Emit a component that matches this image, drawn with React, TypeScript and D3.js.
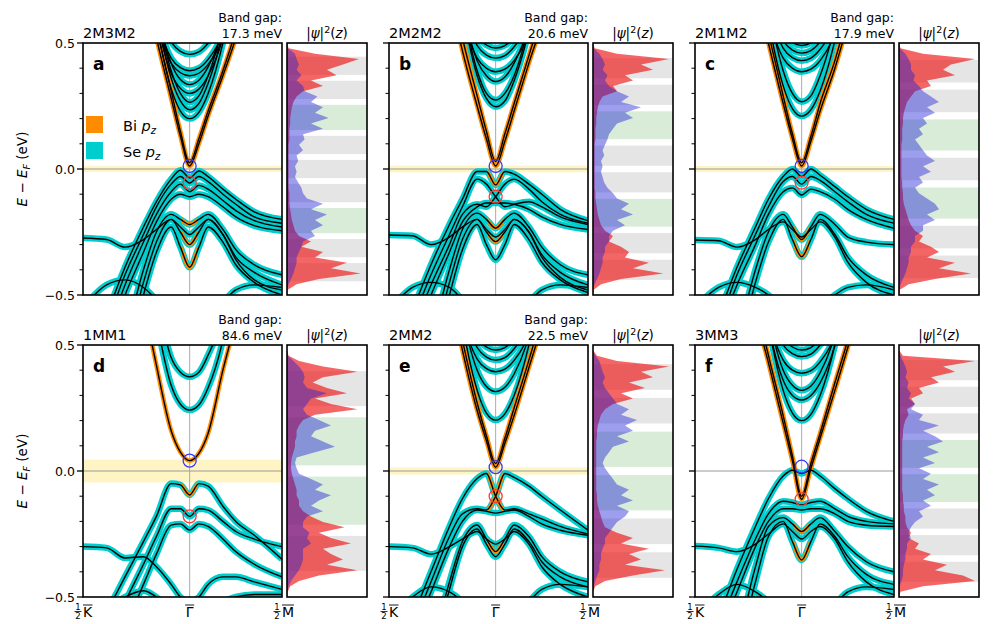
import React from "react";
import * as d3 from "d3";

// k points in units of |ΓM|, from ½K (left) through Γ to ½M (right)
const kGrid = [-0.577, -0.45, -0.35, -0.25, -0.18, -0.1, -0.05, 0, 0.05, 0.1, 0.18, 0.25, 0.35, 0.5];

// ---------- panel a : 2M3M2 ----------
const aOrange = [
  [1.5, 1.5, 1.2, 0.75, 0.52, 0.28, 0.13, 0.012, 0.1, 0.21, 0.37, 0.52, 0.8, 1.2],
  [1.5, 1.5, 1.25, 0.8, 0.56, 0.31, 0.15, 0.025, 0.12, 0.23, 0.39, 0.55, 0.85, 1.25],
];
const aCyan = [
  [1.5, 1.5, 1.3, 0.9, 0.58, 0.32, 0.23, 0.2, 0.225, 0.3, 0.5, 0.75, 1.1, 1.5],
  [1.5, 1.5, 1.34, 0.94, 0.62, 0.36, 0.27, 0.235, 0.26, 0.34, 0.54, 0.79, 1.14, 1.5],
  [1.5, 1.5, 1.37, 0.97, 0.65, 0.39, 0.3, 0.265, 0.29, 0.37, 0.57, 0.82, 1.17, 1.5],
  [1.5, 1.5, 1.4, 0.9, 0.6, 0.38, 0.32, 0.3, 0.317, 0.37, 0.52, 0.75, 1.1, 1.5],
  [1.5, 1.5, 1.44, 0.94, 0.64, 0.42, 0.355, 0.335, 0.352, 0.405, 0.555, 0.79, 1.14, 1.5],
  [1.5, 1.5, 1.37, 0.87, 0.59, 0.42, 0.382, 0.37, 0.38, 0.415, 0.52, 0.72, 1.07, 1.5],
  [1.5, 1.5, 1.39, 0.89, 0.61, 0.44, 0.402, 0.39, 0.4, 0.435, 0.54, 0.74, 1.09, 1.5],
  [1.5, 1.5, 1.46, 0.96, 0.68, 0.505, 0.467, 0.455, 0.465, 0.5, 0.605, 0.81, 1.16, 1.5],
];
const aValence = [
  [-0.8, -0.58, -0.39, -0.23, -0.13, -0.04, -0.005, -0.035, -0.008, -0.03, -0.08, -0.12, -0.17, -0.2],
  [-0.85, -0.62, -0.42, -0.26, -0.15, -0.06, -0.03, -0.056, -0.03, -0.05, -0.1, -0.14, -0.19, -0.215],
  [-0.9, -0.66, -0.46, -0.29, -0.18, -0.09, -0.06, -0.09, -0.065, -0.08, -0.125, -0.165, -0.205, -0.23],
  [-0.95, -0.7, -0.5, -0.33, -0.21, -0.12, -0.1, -0.11, -0.1, -0.11, -0.15, -0.19, -0.225, -0.245],
  [-1.2, -0.95, -0.68, -0.4, -0.25, -0.18, -0.2, -0.22, -0.2, -0.18, -0.24, -0.32, -0.38, -0.42],
  [-1.3, -1.0, -0.74, -0.45, -0.29, -0.2, -0.25, -0.3, -0.25, -0.2, -0.26, -0.35, -0.41, -0.46],
  [-1.4, -1.1, -0.8, -0.5, -0.33, -0.23, -0.31, -0.39, -0.31, -0.23, -0.29, -0.38, -0.45, -0.5],
  [-0.274, -0.28, -0.31, -0.28, -0.24, -0.2, -0.23, -0.26, -0.23, -0.2, -0.26, -0.36, -0.44, -0.48],
  [-0.55, -0.46, -0.44, -0.47, -0.52, -0.6, -0.65, -0.66, -0.65, -0.6, -0.53, -0.48, -0.46, -0.47],
];
const aDips = [4, 5, 6];
const aRed = [0, 0.02, 0.35, 0.9, 0.7, 0.5, 0.62, 0.3, 0.45, 0.2, 0.12, 0.08, 0.06, 0.05, 0.04, 0.04, 0.03, 0.03, 0.03, 0.02, 0.02, 0.02, 0.02, 0.02, 0.02, 0.02, 0.02, 0.02, 0.03, 0.03, 0.03, 0.04, 0.05, 0.06, 0.08, 0.1, 0.15, 0.3, 0.18, 0.45, 0.35, 0.75, 0.55, 0.92, 0.4, 0.12, 0.01, 0];
const aBlue = [0, 0.01, 0.1, 0.12, 0.15, 0.12, 0.18, 0.12, 0.2, 0.22, 0.38, 0.3, 0.45, 0.35, 0.52, 0.3, 0.45, 0.2, 0.22, 0.15, 0.2, 0.12, 0.14, 0.1, 0.12, 0.1, 0.14, 0.18, 0.2, 0.25, 0.45, 0.3, 0.5, 0.35, 0.45, 0.3, 0.35, 0.2, 0.18, 0.15, 0.12, 0.12, 0.1, 0.08, 0.05, 0.02, 0, 0];

// ---------- panel b : 2M2M2 ----------
const bOrange = [
  [1.5, 1.5, 1.2, 0.7, 0.47, 0.25, 0.12, 0.012, 0.11, 0.23, 0.42, 0.58, 0.9, 1.3],
  [1.5, 1.5, 1.25, 0.76, 0.52, 0.29, 0.15, 0.03, 0.14, 0.26, 0.45, 0.62, 0.95, 1.35],
];
const bCyan = [
  [1.5, 1.5, 1.35, 0.95, 0.63, 0.37, 0.28, 0.247, 0.27, 0.35, 0.55, 0.8, 1.15, 1.5],
  [1.5, 1.5, 1.37, 0.97, 0.65, 0.39, 0.3, 0.274, 0.3, 0.37, 0.57, 0.82, 1.17, 1.5],
  [1.5, 1.5, 1.45, 0.95, 0.65, 0.43, 0.37, 0.347, 0.365, 0.42, 0.57, 0.8, 1.15, 1.5],
  [1.5, 1.5, 1.39, 0.89, 0.61, 0.44, 0.4, 0.386, 0.396, 0.43, 0.54, 0.74, 1.09, 1.5],
  [1.5, 1.5, 1.44, 0.94, 0.66, 0.49, 0.452, 0.44, 0.45, 0.485, 0.59, 0.79, 1.14, 1.5],
  [1.5, 1.5, 1.48, 0.98, 0.7, 0.53, 0.492, 0.48, 0.49, 0.525, 0.63, 0.83, 1.18, 1.5],
];
const bValence = [
  [-0.78, -0.56, -0.38, -0.22, -0.12, -0.01, -0.01, -0.063, -0.01, -0.02, -0.06, -0.1, -0.16, -0.205],
  [-0.82, -0.6, -0.42, -0.26, -0.15, -0.04, -0.06, -0.11, -0.15, -0.14, -0.13, -0.15, -0.19, -0.22],
  [-0.86, -0.64, -0.46, -0.3, -0.18, -0.14, -0.15, -0.11, -0.06, -0.04, -0.08, -0.13, -0.18, -0.215],
  [-0.9, -0.68, -0.5, -0.33, -0.21, -0.15, -0.135, -0.135, -0.135, -0.14, -0.16, -0.19, -0.22, -0.24],
  [-1.2, -0.95, -0.68, -0.4, -0.24, -0.175, -0.2, -0.235, -0.2, -0.175, -0.23, -0.31, -0.38, -0.42],
  [-1.3, -1.0, -0.74, -0.45, -0.28, -0.2, -0.25, -0.288, -0.25, -0.2, -0.25, -0.34, -0.41, -0.46],
  [-1.4, -1.1, -0.8, -0.5, -0.32, -0.22, -0.3, -0.36, -0.3, -0.22, -0.28, -0.37, -0.44, -0.49],
  [-0.262, -0.265, -0.3, -0.27, -0.23, -0.2, -0.24, -0.27, -0.24, -0.2, -0.25, -0.35, -0.43, -0.48],
  [-0.56, -0.47, -0.45, -0.47, -0.52, -0.6, -0.65, -0.66, -0.65, -0.6, -0.53, -0.48, -0.46, -0.47],
];
const bDips = [0, 4, 5];
const bRed = [0, 0.02, 0.3, 0.95, 0.6, 0.75, 0.4, 0.5, 0.25, 0.3, 0.12, 0.08, 0.06, 0.05, 0.04, 0.04, 0.03, 0.03, 0.03, 0.02, 0.02, 0.02, 0.02, 0.02, 0.02, 0.02, 0.02, 0.02, 0.03, 0.03, 0.04, 0.05, 0.06, 0.08, 0.1, 0.15, 0.25, 0.2, 0.35, 0.45, 0.4, 0.7, 0.5, 0.88, 0.35, 0.1, 0.01, 0];
const bBlue = [0, 0.01, 0.08, 0.12, 0.15, 0.12, 0.18, 0.15, 0.2, 0.3, 0.45, 0.35, 0.6, 0.4, 0.5, 0.3, 0.25, 0.2, 0.18, 0.15, 0.12, 0.14, 0.1, 0.12, 0.1, 0.12, 0.14, 0.18, 0.25, 0.3, 0.45, 0.35, 0.5, 0.3, 0.4, 0.25, 0.2, 0.2, 0.15, 0.15, 0.12, 0.12, 0.1, 0.08, 0.05, 0.02, 0, 0];

// ---------- panel c : 2M1M2 ----------
const cOrange = [
  [1.5, 1.5, 1.2, 0.72, 0.5, 0.26, 0.12, 0.012, 0.11, 0.23, 0.4, 0.58, 0.9, 1.3],
  [1.5, 1.5, 1.25, 0.77, 0.54, 0.29, 0.14, 0.025, 0.13, 0.26, 0.43, 0.62, 0.95, 1.35],
];
const cCyan = [
  [1.5, 1.5, 1.31, 0.91, 0.59, 0.33, 0.24, 0.21, 0.235, 0.31, 0.51, 0.76, 1.11, 1.5],
  [1.5, 1.5, 1.37, 0.97, 0.65, 0.39, 0.3, 0.267, 0.29, 0.37, 0.57, 0.82, 1.17, 1.5],
  [1.5, 1.5, 1.39, 0.89, 0.61, 0.44, 0.4, 0.386, 0.396, 0.43, 0.54, 0.74, 1.09, 1.5],
  [1.5, 1.5, 1.43, 0.93, 0.65, 0.48, 0.442, 0.43, 0.44, 0.475, 0.58, 0.78, 1.13, 1.5],
  [1.5, 1.5, 1.46, 0.96, 0.68, 0.51, 0.472, 0.46, 0.47, 0.505, 0.61, 0.81, 1.16, 1.5],
  [1.5, 1.5, 1.49, 0.99, 0.71, 0.54, 0.502, 0.49, 0.5, 0.535, 0.64, 0.84, 1.19, 1.5],
];
const cValence = [
  [-0.8, -0.58, -0.39, -0.23, -0.12, -0.03, 0.0, -0.03, 0.0, -0.025, -0.07, -0.11, -0.16, -0.2],
  [-0.84, -0.62, -0.42, -0.26, -0.15, -0.05, -0.03, -0.06, -0.03, -0.045, -0.09, -0.13, -0.18, -0.215],
  [-0.88, -0.65, -0.46, -0.3, -0.18, -0.09, -0.075, -0.103, -0.08, -0.09, -0.12, -0.16, -0.2, -0.235],
  [-1.2, -0.95, -0.68, -0.4, -0.25, -0.18, -0.23, -0.28, -0.23, -0.18, -0.22, -0.27, -0.29, -0.3],
  [-1.3, -1.0, -0.74, -0.45, -0.29, -0.2, -0.28, -0.348, -0.28, -0.2, -0.26, -0.35, -0.42, -0.47],
  [-0.282, -0.285, -0.31, -0.28, -0.24, -0.21, -0.24, -0.27, -0.24, -0.21, -0.27, -0.37, -0.45, -0.5],
  [-0.55, -0.47, -0.45, -0.47, -0.5, -0.56, -0.6, -0.62, -0.6, -0.55, -0.5, -0.47, -0.46, -0.48],
];
const cDips = [3, 4];
const cRed = [0, 0.02, 0.3, 0.95, 0.65, 0.55, 0.7, 0.35, 0.4, 0.2, 0.15, 0.1, 0.08, 0.06, 0.05, 0.05, 0.04, 0.04, 0.04, 0.03, 0.03, 0.03, 0.03, 0.03, 0.03, 0.03, 0.04, 0.04, 0.05, 0.05, 0.06, 0.08, 0.1, 0.12, 0.15, 0.2, 0.3, 0.25, 0.4, 0.5, 0.35, 0.7, 0.5, 0.9, 0.45, 0.12, 0.01, 0];
const cBlue = [0, 0.01, 0.08, 0.12, 0.15, 0.15, 0.2, 0.18, 0.25, 0.3, 0.4, 0.5, 0.35, 0.45, 0.3, 0.35, 0.25, 0.3, 0.2, 0.25, 0.3, 0.35, 0.45, 0.3, 0.4, 0.25, 0.3, 0.2, 0.25, 0.35, 0.45, 0.5, 0.35, 0.45, 0.3, 0.3, 0.2, 0.2, 0.15, 0.15, 0.12, 0.12, 0.1, 0.08, 0.05, 0.02, 0, 0];

// ---------- panel d : 1MM1 ----------
const dOrange = [
  [1.5, 1.5, 1.2, 0.68, 0.42, 0.16, 0.075, 0.041, 0.07, 0.15, 0.4, 0.6, 0.95, 1.4],
];
const dCyan = [
  [1.5, 1.5, 1.3, 0.9, 0.6, 0.34, 0.265, 0.242, 0.262, 0.33, 0.52, 0.8, 1.2, 1.5],
  [1.5, 1.5, 1.4, 1.0, 0.7, 0.45, 0.392, 0.374, 0.392, 0.46, 0.62, 0.9, 1.3, 1.5],
];
const dValence = [
  [-0.72, -0.56, -0.42, -0.28, -0.18, -0.05, -0.055, -0.095, -0.05, -0.06, -0.14, -0.2, -0.255, -0.35],
  [-0.85, -0.68, -0.52, -0.37, -0.26, -0.15, -0.15, -0.18, -0.15, -0.155, -0.2, -0.24, -0.27, -0.3],
  [-0.95, -0.78, -0.62, -0.45, -0.33, -0.215, -0.21, -0.234, -0.21, -0.22, -0.27, -0.32, -0.37, -0.42],
  [-0.3, -0.305, -0.345, -0.34, -0.38, -0.45, -0.5, -0.52, -0.5, -0.45, -0.42, -0.42, -0.44, -0.47],
  [-0.62, -0.55, -0.5, -0.475, -0.5, -0.56, -0.6, -0.62, -0.6, -0.56, -0.52, -0.5, -0.49, -0.49],
];
const dDips = [0];
const dRed = [0, 0, 0.02, 0.15, 0.45, 0.88, 0.45, 0.32, 0.5, 0.75, 0.35, 0.55, 0.88, 0.35, 0.2, 0.15, 0.12, 0.12, 0.1, 0.1, 0.08, 0.06, 0.05, 0.05, 0.06, 0.08, 0.1, 0.12, 0.12, 0.15, 0.15, 0.2, 0.3, 0.45, 0.72, 0.4, 0.55, 0.8, 0.45, 0.55, 0.7, 0.5, 0.88, 0.4, 0.15, 0.04, 0.01, 0];
const dBlue = [0, 0, 0.01, 0.08, 0.15, 0.2, 0.22, 0.2, 0.25, 0.5, 0.3, 0.25, 0.2, 0.25, 0.4, 0.55, 0.35, 0.3, 0.45, 0.6, 0.35, 0.12, 0.1, 0.12, 0.15, 0.3, 0.45, 0.35, 0.55, 0.4, 0.3, 0.45, 0.25, 0.2, 0.2, 0.28, 0.25, 0.3, 0.2, 0.2, 0.2, 0.18, 0.15, 0.1, 0.05, 0.02, 0, 0];

// ---------- panel e : 2MM2 ----------
const eOrange = [
  [1.5, 1.5, 1.2, 0.72, 0.48, 0.24, 0.12, 0.015, 0.11, 0.22, 0.41, 0.58, 0.9, 1.3],
  [1.5, 1.5, 1.25, 0.77, 0.52, 0.27, 0.14, 0.03, 0.13, 0.25, 0.44, 0.62, 0.95, 1.35],
];
const eCyan = [
  [1.5, 1.5, 1.3, 0.9, 0.58, 0.32, 0.23, 0.202, 0.227, 0.3, 0.5, 0.75, 1.1, 1.5],
  [1.5, 1.5, 1.42, 0.92, 0.62, 0.4, 0.335, 0.315, 0.332, 0.385, 0.535, 0.77, 1.12, 1.5],
  [1.5, 1.5, 1.39, 0.89, 0.61, 0.444, 0.406, 0.394, 0.404, 0.439, 0.544, 0.744, 1.09, 1.5],
  [1.5, 1.5, 1.44, 0.94, 0.66, 0.49, 0.452, 0.44, 0.45, 0.485, 0.59, 0.79, 1.14, 1.5],
  [1.5, 1.5, 1.48, 0.98, 0.7, 0.53, 0.492, 0.48, 0.49, 0.525, 0.63, 0.83, 1.18, 1.5],
];
const eValence = [
  [-0.8, -0.58, -0.4, -0.22, -0.11, -0.03, -0.01, -0.1, -0.155, -0.15, -0.17, -0.19, -0.22, -0.25],
  [-0.85, -0.62, -0.44, -0.26, -0.17, -0.15, -0.155, -0.1, -0.01, -0.025, -0.06, -0.1, -0.155, -0.235],
  [-0.9, -0.66, -0.48, -0.3, -0.2, -0.155, -0.16, -0.167, -0.16, -0.155, -0.18, -0.21, -0.235, -0.255],
  [-1.25, -1.0, -0.72, -0.44, -0.28, -0.214, -0.27, -0.32, -0.27, -0.214, -0.26, -0.34, -0.4, -0.44],
  [-1.3, -1.05, -0.76, -0.47, -0.3, -0.23, -0.29, -0.34, -0.29, -0.23, -0.28, -0.36, -0.42, -0.46],
  [-0.3, -0.305, -0.33, -0.3, -0.27, -0.24, -0.27, -0.29, -0.27, -0.24, -0.29, -0.38, -0.45, -0.5],
  [-0.6, -0.5, -0.46, -0.48, -0.52, -0.6, -0.65, -0.66, -0.65, -0.6, -0.52, -0.47, -0.45, -0.46],
];
const eDips = [0, 1, 3];
const eRed = [0, 0, 0.05, 0.3, 0.95, 0.6, 0.75, 0.45, 0.65, 0.35, 0.5, 0.25, 0.15, 0.1, 0.08, 0.06, 0.05, 0.05, 0.04, 0.04, 0.04, 0.04, 0.04, 0.04, 0.04, 0.04, 0.04, 0.04, 0.05, 0.05, 0.06, 0.08, 0.1, 0.12, 0.15, 0.3, 0.5, 0.35, 0.7, 0.45, 0.6, 0.4, 0.9, 0.5, 0.15, 0.03, 0, 0];
const eBlue = [0, 0, 0.03, 0.08, 0.1, 0.12, 0.15, 0.12, 0.15, 0.2, 0.25, 0.3, 0.45, 0.35, 0.55, 0.4, 0.5, 0.3, 0.45, 0.25, 0.2, 0.15, 0.12, 0.15, 0.2, 0.25, 0.3, 0.45, 0.35, 0.5, 0.3, 0.45, 0.4, 0.3, 0.25, 0.2, 0.15, 0.15, 0.12, 0.1, 0.1, 0.08, 0.08, 0.05, 0.03, 0.01, 0, 0];

// ---------- panel f : 3MM3 ----------
const fOrange = [
  [1.5, 1.5, 1.2, 0.64, 0.43, 0.19, 0.04, -0.112, 0.01, 0.13, 0.32, 0.49, 0.75, 1.1],
  [1.5, 1.5, 1.25, 0.68, 0.46, 0.22, 0.06, -0.1, 0.03, 0.15, 0.35, 0.52, 0.8, 1.15],
];
const fCyan = [
  [1.5, 1.5, 1.3, 0.9, 0.58, 0.32, 0.23, 0.2, 0.225, 0.3, 0.5, 0.75, 1.1, 1.5],
  [1.5, 1.5, 1.38, 0.88, 0.58, 0.36, 0.3, 0.282, 0.3, 0.35, 0.5, 0.73, 1.08, 1.5],
  [1.5, 1.5, 1.42, 0.92, 0.62, 0.4, 0.34, 0.32, 0.337, 0.39, 0.54, 0.77, 1.12, 1.5],
  [1.5, 1.5, 1.39, 0.89, 0.61, 0.44, 0.4, 0.388, 0.398, 0.433, 0.538, 0.738, 1.09, 1.5],
  [1.5, 1.5, 1.45, 0.95, 0.67, 0.5, 0.466, 0.454, 0.464, 0.5, 0.6, 0.8, 1.15, 1.5],
  [1.5, 1.5, 1.48, 0.98, 0.7, 0.53, 0.492, 0.48, 0.49, 0.525, 0.63, 0.83, 1.18, 1.5],
];
const fValence = [
  [-0.8, -0.58, -0.39, -0.22, -0.11, -0.02, 0.003, -0.01, 0.003, -0.02, -0.07, -0.11, -0.16, -0.2],
  [-0.85, -0.62, -0.44, -0.27, -0.17, -0.12, -0.125, -0.135, -0.125, -0.12, -0.15, -0.18, -0.2, -0.21],
  [-0.9, -0.66, -0.48, -0.3, -0.2, -0.15, -0.15, -0.155, -0.15, -0.15, -0.17, -0.2, -0.215, -0.22],
  [-1.2, -0.95, -0.68, -0.38, -0.22, -0.185, -0.21, -0.24, -0.21, -0.185, -0.24, -0.3, -0.36, -0.4],
  [-1.3, -1.0, -0.74, -0.44, -0.26, -0.2, -0.28, -0.353, -0.28, -0.21, -0.26, -0.34, -0.41, -0.45],
  [-0.298, -0.305, -0.32, -0.29, -0.25, -0.21, -0.24, -0.27, -0.24, -0.22, -0.27, -0.36, -0.44, -0.49],
  [-0.58, -0.49, -0.45, -0.48, -0.52, -0.6, -0.65, -0.66, -0.65, -0.6, -0.53, -0.48, -0.46, -0.47],
];
const fDips = [3, 4];
const fRed = [0, 0, 0.05, 0.95, 0.55, 0.7, 0.4, 0.5, 0.25, 0.3, 0.15, 0.2, 0.1, 0.12, 0.08, 0.06, 0.05, 0.05, 0.04, 0.04, 0.04, 0.04, 0.04, 0.04, 0.04, 0.04, 0.04, 0.04, 0.05, 0.05, 0.06, 0.06, 0.08, 0.08, 0.1, 0.15, 0.12, 0.25, 0.2, 0.4, 0.3, 0.6, 0.45, 0.8, 0.95, 0.3, 0.02, 0];
const fBlue = [0, 0, 0.02, 0.05, 0.08, 0.1, 0.08, 0.12, 0.1, 0.15, 0.12, 0.2, 0.15, 0.3, 0.25, 0.5, 0.3, 0.45, 0.55, 0.35, 0.5, 0.3, 0.45, 0.25, 0.4, 0.3, 0.5, 0.35, 0.45, 0.3, 0.4, 0.25, 0.3, 0.2, 0.15, 0.12, 0.15, 0.1, 0.1, 0.08, 0.08, 0.06, 0.05, 0.05, 0.03, 0.01, 0, 0];

const panelIds = ["a", "b", "c", "d", "e", "f"];
const panelNames = ["2M3M2", "2M2M2", "2M1M2", "1MM1", "2MM2", "3MM3"];
const bandGaps = [17.3, 20.6, 17.9, 84.6, 22.5, null];
const cbmEnergy = [0.012, 0.012, 0.012, 0.041, 0.015, 0.017];
const redMarkEnergy = [-0.056, -0.11, -0.054, -0.18, -0.1, -0.112];

const panels = [
  { orange: aOrange, cyan: aCyan, valence: aValence, dips: aDips, red: aRed, blue: aBlue },
  { orange: bOrange, cyan: bCyan, valence: bValence, dips: bDips, red: bRed, blue: bBlue },
  { orange: cOrange, cyan: cCyan, valence: cValence, dips: cDips, red: cRed, blue: cBlue },
  { orange: dOrange, cyan: dCyan, valence: dValence, dips: dDips, red: dRed, blue: dBlue },
  { orange: eOrange, cyan: eCyan, valence: eValence, dips: eDips, red: eRed, blue: eBlue },
  { orange: fOrange, cyan: fCyan, valence: fValence, dips: fDips, red: fRed, blue: fBlue },
].map((p, i) => ({ ...p, id: panelIds[i], name: panelNames[i], gap: bandGaps[i], cbm: cbmEnergy[i], vmark: redMarkEnergy[i] }));

// layer thicknesses (arbitrary units) for the |psi|^2 side plots
const QL = 1.0, SL = 1.38, GAP = 0.32, VAC = 0.75;

// layout
const colX = [83, 389, 695];
const rowY = [43, 345];
const BW = 199, PH = 252, SG = 5, SW = 80;
const CYAN = "#00cdcd", ORANGE = "#ff8c00";
const FONT = "DejaVu Sans, Liberation Sans, sans-serif";

function layers(name: string) {
  const out: string[] = [];
  for (const ch of name) {
    if (ch === "M") out.push("SL");
    else for (let i = 0; i < +ch; i++) out.push("QL");
  }
  return out;
}

function Panel({ p, idx }: { p: any; idx: number }) {
  const col = idx % 3, row = Math.floor(idx / 3);
  const x0 = colX[col], y0 = rowY[row];
  const x = d3.scaleLinear().domain([-1 / Math.sqrt(3), 0.5]).range([x0, x0 + BW]);
  const y = d3.scaleLinear().domain([-0.5, 0.5]).range([y0 + PH, y0]);
  const line = d3.line<number>().x((_, i) => x(kGrid[i])).y((d) => y(d)).curve(d3.curveMonotoneX);

  // side plot
  const sx = x0 + BW + SG;
  const lay = layers(p.name);
  let z = 0;
  const stripes = lay.map((t, i) => {
    const th = t === "QL" ? QL : SL;
    const s = { t, z0: z, z1: z + th };
    z += th + (i < lay.length - 1 ? GAP : 0);
    return s;
  });
  const zs = d3.scaleLinear().domain([-VAC, z + VAC]).range([y0, y0 + PH]);
  const pi = d3.scaleLinear().domain([0, p.red.length - 1]).range([y0, y0 + PH]);
  const px = d3.scaleLinear().domain([0, 1]).range([sx, sx + SW]);
  const area = d3.area<number>().y((_, i) => pi(i)).x0(sx).x1((d) => px(d));

  const clip = `clip-${p.id}`, dip = `dip-${p.id}`, sclip = `sclip-${p.id}`;
  const minor = d3.range(-0.4, 0.41, 0.1).filter((v) => Math.abs(v) > 0.05);

  return (
    <g>
      <defs>
        <clipPath id={clip}><rect x={x0} y={y0} width={BW} height={PH} /></clipPath>
        <clipPath id={dip}><rect x={x(-0.045)} y={y0} width={x(0.045) - x(-0.045)} height={PH} /></clipPath>
        <clipPath id={sclip}><rect x={sx} y={y0} width={SW} height={PH} /></clipPath>
      </defs>

      {/* band structure */}
      <g clipPath={`url(#${clip})`}>
        {p.gap != null && (
          <rect x={x0} y={y(p.gap / 2000 + 0.003)} width={BW}
            height={y(-p.gap / 2000 - 0.003) - y(p.gap / 2000 + 0.003)} fill="#fff5c4" />
        )}
        <line x1={x0} x2={x0 + BW} y1={y(0)} y2={y(0)} stroke="#999" strokeWidth={1.2} />
        <line x1={x(0)} x2={x(0)} y1={y0} y2={y0 + PH} stroke="#aaa" strokeWidth={1} />
        {[...p.cyan, ...p.valence].map((b: number[], i: number) => (
          <path key={"c" + i} d={line(b)!} fill="none" stroke={CYAN} strokeWidth={6.5} strokeLinejoin="round" />
        ))}
        {p.orange.map((b: number[], i: number) => (
          <path key={"o" + i} d={line(b)!} fill="none" stroke={ORANGE} strokeWidth={4.5} />
        ))}
        <g clipPath={`url(#${dip})`}>
          {p.dips.map((j: number) => (
            <path key={"d" + j} d={line(p.valence[j])!} fill="none" stroke={ORANGE} strokeWidth={4} />
          ))}
        </g>
        {[...p.cyan, ...p.valence, ...p.orange].map((b: number[], i: number) => (
          <path key={"k" + i} d={line(b)!} fill="none" stroke="#000" strokeWidth={1.4} />
        ))}
        <circle cx={x(0)} cy={y(p.cbm)} r={6.5} fill="none" stroke="#3838ff" strokeWidth={1.3} />
        <circle cx={x(0)} cy={y(p.vmark)} r={6.5} fill="none" stroke="#ff3838" strokeWidth={1.3} />
      </g>
      <rect x={x0} y={y0} width={BW} height={PH} fill="none" stroke="#000" strokeWidth={1.6} />
      {minor.map((v) => (
        <line key={v} x1={x0 - 3.5} x2={x0} y1={y(v)} y2={y(v)} stroke="#000" strokeWidth={1} />
      ))}
      {[-0.5, 0, 0.5].map((v) => (
        <line key={"M" + v} x1={x0 - 6} x2={x0} y1={y(v)} y2={y(v)} stroke="#000" strokeWidth={1.3} />
      ))}
      {col === 0 &&
        [-0.5, 0, 0.5].map((v) => (
          <text key={"t" + v} x={x0 - 8} y={y(v) + 4.5} fontSize={12.5} textAnchor="end" fontFamily={FONT}>
            {v < 0 ? "\u22120.5" : v.toFixed(1)}
          </text>
        ))}
      <text x={x0 + 10} y={y0 + 27} fontSize={17} fontWeight="bold" fontFamily={FONT}>{p.id}</text>

      {/* titles */}
      <text x={x0} y={y0 - 5} fontSize={14.5} fontFamily={FONT}>{p.name}</text>
      {p.gap != null && (
        <g fontSize={12.5} fontFamily={FONT} textAnchor="end">
          <text x={x0 + BW} y={y0 - 21}>Band gap:</text>
          <text x={x0 + BW} y={y0 - 5}>{p.gap.toFixed(1)} meV</text>
        </g>
      )}
      <text x={sx + SW / 2} y={y0 - 5} fontSize={13.5} fontFamily={FONT} textAnchor="middle">
        |<tspan fontStyle="italic">ψ</tspan>|<tspan dy={-5} fontSize={9.5}>2</tspan>
        <tspan dy={5}>(</tspan><tspan fontStyle="italic">z</tspan>)
      </text>

      {/* wavefunction side plot */}
      <g clipPath={`url(#${sclip})`}>
        {stripes.map((s, i) => (
          <rect key={i} x={sx} width={SW} y={zs(s.z0)} height={zs(s.z1) - zs(s.z0)}
            fill={s.t === "QL" ? "#e5e5e5" : "#d8ecd8"} />
        ))}
        <path d={area(p.red)!} fill="rgba(238,20,20,0.65)" />
        <path d={area(p.blue)!} fill="rgba(25,25,215,0.42)" />
      </g>
      <rect x={sx} y={y0} width={SW} height={PH} fill="none" stroke="#000" strokeWidth={1.6} />

      {row === 1 && <KLabels x={x} yb={y0 + PH} />}
    </g>
  );
}

function KLabels({ x, yb }: { x: any; yb: number }) {
  const half = (cx: number, letter: string) => (
    <g fontFamily={FONT}>
      <text x={cx - 5} y={yb + 13} fontSize={8.5} textAnchor="middle">1</text>
      <line x1={cx - 8.5} x2={cx - 1.5} y1={yb + 14.5} y2={yb + 14.5} stroke="#000" strokeWidth={0.8} />
      <text x={cx - 5} y={yb + 22} fontSize={8.5} textAnchor="middle">2</text>
      <text x={cx} y={yb + 20} fontSize={14}>{letter}</text>
      <line x1={cx} x2={cx + (letter === "M" ? 12 : 9.5)} y1={yb + 8} y2={yb + 8} stroke="#000" strokeWidth={0.9} />
    </g>
  );
  const g = x(0);
  return (
    <g>
      {half(x.range()[0], "K")}
      <text x={g} y={yb + 20} fontSize={14} textAnchor="middle" fontFamily={FONT}>Γ</text>
      <line x1={g - 4.5} x2={g + 4.5} y1={yb + 8} y2={yb + 8} stroke="#000" strokeWidth={0.9} />
      {half(x.range()[1], "M")}
    </g>
  );
}

function YLabel({ cy }: { cy: number }) {
  return (
    <text transform={`translate(27,${cy}) rotate(-90)`} textAnchor="middle" fontSize={13.5} fontFamily={FONT}>
      <tspan fontStyle="italic">E</tspan> − <tspan fontStyle="italic">E</tspan>
      <tspan fontStyle="italic" fontSize={9.5} dy={3}>F</tspan>
      <tspan dy={-3}> (eV)</tspan>
    </text>
  );
}

export default function App() {
  return (
    <svg width={997} height={624} style={{ display: "block", position: "absolute", left: 0, top: 0, background: "#fff" }}>
      {panels.map((p, i) => (
        <Panel key={p.id} p={p} idx={i} />
      ))}
      <YLabel cy={rowY[0] + PH / 2} />
      <YLabel cy={rowY[1] + PH / 2} />
      {/* legend in panel a */}
      <g fontFamily={FONT} fontSize={14.5}>
        <rect x={86} y={116} width={17} height={17} fill={ORANGE} />
        <rect x={86} y={142} width={17} height={17} fill={CYAN} />
        <text x={123} y={131}>Bi <tspan fontStyle="italic">p</tspan><tspan fontStyle="italic" fontSize={10} dy={3}>z</tspan></text>
        <text x={123} y={157}>Se <tspan fontStyle="italic">p</tspan><tspan fontStyle="italic" fontSize={10} dy={3}>z</tspan></text>
      </g>
    </svg>
  );
}
